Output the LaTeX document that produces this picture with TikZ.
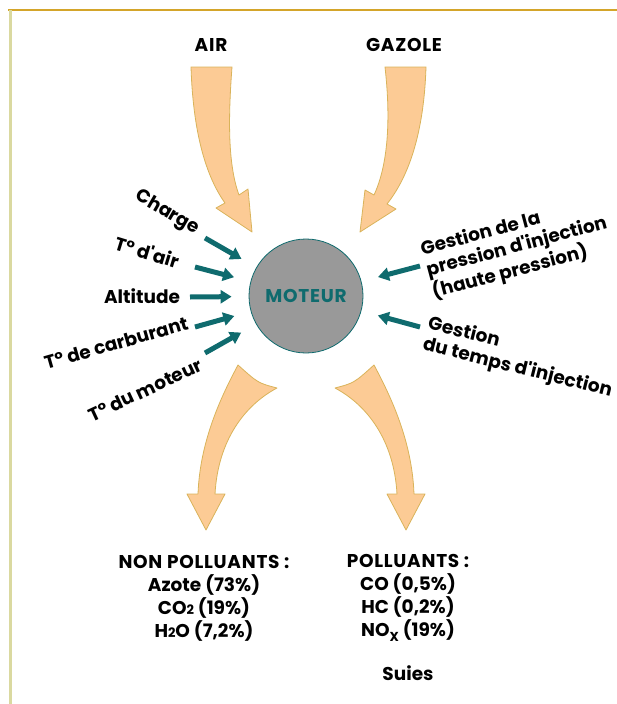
\documentclass[tikz,border=0pt]{standalone}
\usepackage{fontspec}
\setmainfont{Poppins}
\usetikzlibrary{arrows.meta}

\definecolor{peche}{HTML}{FCCB95}
\definecolor{bordpeche}{HTML}{D9B35A}
\definecolor{sarcelle}{HTML}{0F6B6E}
\definecolor{gris}{HTML}{999999}
\definecolor{or}{HTML}{D4A52A}
\definecolor{orpale}{HTML}{DAD9A0}

\begin{document}
\begin{tikzpicture}[x=1pt, y=-1pt, font=\fontsize{18.5}{21.5}\selectfont\bfseries,
  flux/.style={fill=peche, draw=bordpeche, line width=0.8pt, line join=round},
  reglage/.style={draw=sarcelle, line width=5pt, -{Triangle[length=11pt, width=13pt]}, shorten >=17pt},
  majuscules/.style={font=\fontsize{18.5}{23}\selectfont\bfseries\addfontfeature{LetterSpace=4}}]

  \useasboundingbox (0,0) rectangle (617,704);

  % cadre
  \draw[or, line width=2.5pt] (8,10) -- (617,10);
  \draw[orpale, line width=3pt] (10,10) -- (10,704);

  % moteur
  \node[circle, fill=gris, draw=sarcelle, line width=0.8pt, minimum size=114pt, inner sep=0, text=sarcelle, majuscules] (moteur) at (306,296) {MOTEUR};

  % entrees : air et gazole
  \node[majuscules] (air) at (211,45) {AIR};
  \node[majuscules] (gazole) at (404,45) {GAZOLE};
  \draw[flux] (191,67) -- (232,67) .. controls (228,120) and (228,165) .. (239,195) -- (248,189) -- (252,232) -- (216,208) -- (225,203) .. controls (205,175) and (193,130) .. cycle;
  \draw[flux] (385,67) -- (426,67) .. controls (424,130) and (410,175) .. (387,204) -- (396,209) -- (360,232) -- (365,190) -- (374,195) .. controls (388,165) and (391,120) .. cycle;

  % sorties
  \draw[flux] (238,365) .. controls (258,383) .. (277,388) .. controls (245,405) and (218,440) .. (215,494) -- (225,494) -- (206,530) -- (187,494) -- (198,494) .. controls (200,440) and (222,395) .. cycle;
  \draw[flux] (374,365) .. controls (354,383) .. (335,388) .. controls (367,405) and (394,440) .. (397,494) -- (387,494) -- (406,530) -- (425,494) -- (414,494) .. controls (412,440) and (390,395) .. cycle;

  % parametres a gauche
  \node[rotate=-30] (charge) at (167,213) {Charge};
  \node[rotate=-17] (tair) at (147,252) {T° d\textquotesingle air};
  \node (altitude) at (142,296) {Altitude};
  \node[rotate=16] (tcarb) at (116,343) {T° de carburant};
  \node[rotate=25] (tmot) at (145,390) {T° du moteur};
  \coordinate (d-charge) at (205,238);
  \coordinate (d-tair) at (195,267);
  \coordinate (d-altitude) at (190,297);
  \coordinate (d-tcarb) at (195,327);
  \coordinate (d-tmot) at (205,353);
  \draw[reglage] (d-charge) -- (moteur);
  \draw[reglage] (d-tair) -- (moteur);
  \draw[reglage] (d-altitude) -- (moteur);
  \draw[reglage] (d-tcarb) -- (moteur);
  \draw[reglage] (d-tmot) -- (moteur);

  % gestion a droite
  \node[rotate=15, align=left] (pression) at (517,248) {Gestion de la\\pression d\textquotesingle injection\\(haute pression)};
  \node[rotate=-14, align=left] (temps) at (520,358) {Gestion\\du temps d\textquotesingle injection};
  \coordinate (d-pression) at (420,266);
  \coordinate (d-temps) at (420,327);
  \draw[reglage] (d-pression) -- (moteur);
  \draw[reglage] (d-temps) -- (moteur);

  % gaz d'echappement
  \node[align=center, font=\fontsize{18.5}{23}\selectfont\bfseries] (nonpol) at (204,598) {{\addfontfeature{LetterSpace=4}NON POLLUANTS :}\\Azote (73\%)\\CO{\fontsize{13}{13}\selectfont 2} (19\%)\\H{\fontsize{13}{13}\selectfont 2}O (7,2\%)};
  \node[align=center, font=\fontsize{18.5}{23}\selectfont\bfseries] (pol) at (408,598) {{\addfontfeature{LetterSpace=4}POLLUANTS :}\\CO (0,5\%)\\HC (0,2\%)\\NO\raisebox{-5pt}{\fontsize{13}{13}\selectfont X} (19\%)};
  \node (suies) at (408,673) {Suies};

\end{tikzpicture}
\end{document}
